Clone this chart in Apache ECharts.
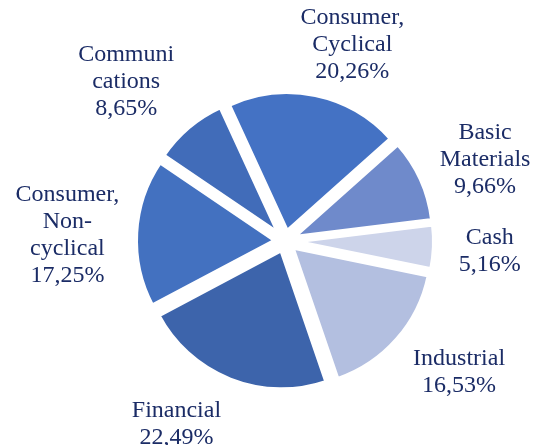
<!DOCTYPE html>
<html><head><meta charset="utf-8">
<script src="https://cdn.jsdelivr.net/npm/echarts@6/dist/echarts.min.js"></script>
<style>html,body{margin:0;padding:0;background:#fff}#c{width:534px;height:445px}</style>
</head><body><div id="c"></div>
<script>
const categories = ['Consumer, Cyclical','Basic Materials','Cash','Industrial','Financial','Consumer, Non-cyclical','Communications'];
const labelTexts = ['Consumer,\nCyclical','Basic\nMaterials','Cash','Industrial','Financial','Consumer,\nNon-\ncyclical','Communi\ncations'];
const shares = [20.26, 9.66, 5.16, 16.53, 22.49, 17.25, 8.65];
const colors = ['#4472c4','#6f8acb','#cdd4ea','#b3bfe0','#3d64ab','#4371c0','#416cb9'];

// layout settings
const CX = 285, CY = 241, R = 139, OFF = 10, START = 114.7, GAP = 22;
// label placement tweaks (Excel "best fit" style), in px
const labelNudge = [[24, 12], [-1, 10], [3, 2], [15, -9], [-35, -3], [5, 6], [-14, 12]];

const total = shares.reduce((a, b) => a + b, 0);
const mids = [];
let acc = 0;
shares.forEach(v => { mids.push((90 - START) + (acc + v / 2) / total * 360); acc += v; });

const chart = echarts.init(document.getElementById('c'));
chart.setOption({
  animation: false,
  series: [{
    type: 'pie',
    center: [CX, CY],
    radius: R,
    startAngle: START,
    clockwise: true,
    selectedMode: 'multiple',
    selectedOffset: OFF,
    itemStyle: { borderColor: '#fff', borderWidth: 4 },
    select: { itemStyle: { borderColor: '#fff', borderWidth: 4 } },
    emphasis: { disabled: true },
    label: { show: false },
    labelLine: { show: false },
    data: categories.map((name, i) => ({
      name: name,
      value: shares[i],
      selected: true,
      itemStyle: { color: colors[i] }
    }))
  }, {
    type: 'pie',
    silent: true,
    center: [CX, CY],
    radius: R,
    startAngle: START,
    clockwise: true,
    avoidLabelOverlap: false,
    itemStyle: { color: 'rgba(0,0,0,0)', borderWidth: 0 },
    emphasis: { disabled: true },
    label: {
      show: true,
      position: 'outside',
      fontFamily: 'Liberation Serif',
      fontSize: 24,
      lineHeight: 27,
      color: '#1b2c66',
      formatter: p => labelTexts[p.dataIndex] + '\n' + p.value.toFixed(2).replace('.', ',') + '%'
    },
    labelLine: { show: false },
    labelLayout: function (params) {
      const i = params.dataIndex;
      const r = params.labelRect;
      const a = mids[i] * Math.PI / 180;
      const ux = Math.sin(a), uy = -Math.cos(a);
      const hw = r.width / 2, hh = r.height / 2;
      const e = Math.min(Math.abs(ux) > 1e-6 ? hw / Math.abs(ux) : 1e9, Math.abs(uy) > 1e-6 ? hh / Math.abs(uy) : 1e9);
      const d = R + OFF + GAP + e;
      return {
        x: CX + ux * d + labelNudge[i][0],
        y: CY + uy * d + labelNudge[i][1],
        align: 'center',
        verticalAlign: 'middle'
      };
    },
    data: categories.map((name, i) => ({ name: name, value: shares[i] }))
  }]
});
</script>
</body></html>
